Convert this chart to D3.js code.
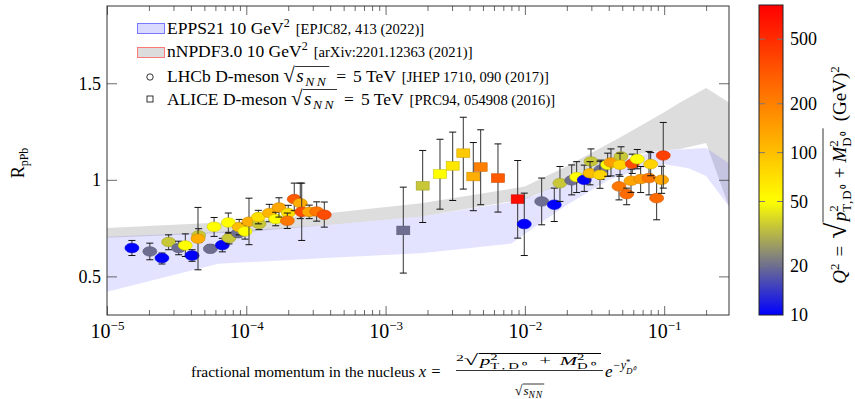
<!DOCTYPE html>
<html><head><meta charset="utf-8">
<script src="https://cdn.jsdelivr.net/npm/d3@7"></script>
<style>body{margin:0;background:#fff}svg{display:block}text{white-space:pre}</style>
</head><body><svg id="c" width="855" height="399"></svg>
<script>
// ---------- data ----------
const lhcbX = [1.51e-5,2.03e-5,2.48e-5,2.77e-5,3.27e-5,3.65e-5,4.08e-5,4.55e-5,4.50e-5,5.52e-5,5.87e-5,6.73e-5,7.51e-5,7.43e-5,8.76e-5,8.90e-5,9.79e-5,1.046e-4,1.234e-4,1.22e-4,1.463e-4,1.626e-4,1.717e-4,2.00e-4,1.97e-4,2.21e-4,2.44e-4,2.50e-4,2.83e-4,3.20e-4,3.63e-4,
  9.90e-3,1.32e-2,1.626e-2,1.786e-2,2.168e-2,2.354e-2,2.669e-2,2.982e-2,2.934e-2,3.518e-2,3.46e-2,3.93e-2,4.15e-2,4.90e-2,4.82e-2,4.74e-2,5.38e-2,5.78e-2,5.90e-2,6.41e-2,6.78e-2,7.78e-2,8.00e-2,8.83e-2,9.59e-2,9.85e-2];
const lhcbY = [0.647,0.629,0.595,0.678,0.647,0.660,0.608,0.712,0.695,0.643,0.757,0.662,0.698,0.779,0.724,0.755,0.733,0.783,0.772,0.807,0.828,0.797,0.857,0.828,0.788,0.900,0.879,0.834,0.834,0.836,0.819,
  0.771,0.888,0.871,0.983,0.997,1.014,1.000,1.095,1.034,1.052,1.026,1.078,1.090,1.121,1.078,0.966,0.926,0.995,1.083,1.107,1.004,1.009,1.081,0.905,1.000,1.126];
const lhcbErrUp = [0.039,0.043,0.026,0.037,0.035,0.060,0.030,0.035,0.162,0.020,0.048,0.035,0.030,0.049,0.020,0.040,0.040,0.122,0.030,0.035,0.045,0.035,0.050,0.040,0.040,0.083,0.104,0.149,0.035,0.050,0.066,
  0.160,0.121,0.086,0.086,0.080,0.080,0.076,0.065,0.060,0.050,0.070,0.060,0.070,0.050,0.060,0.060,0.031,0.060,0.050,0.050,0.065,0.138,0.060,0.104,0.070,0.171];
const lhcbErrDown = [0.039,0.043,0.031,0.040,0.035,0.057,0.030,0.035,0.161,0.020,0.050,0.035,0.030,0.055,0.020,0.040,0.040,0.119,0.030,0.035,0.045,0.035,0.050,0.040,0.040,0.060,0.080,0.148,0.035,0.050,0.064,
  0.163,0.121,0.087,0.095,0.075,0.080,0.060,0.070,0.060,0.050,0.070,0.060,0.070,0.050,0.060,0.070,0.055,0.060,0.050,0.050,0.070,0.087,0.060,0.112,0.070,0.169];
const lhcbQ2 = [10,20,10,35,20,50,10,35,120,20,50,10,35,50,20,100,50,120,35,70,110,50,130,70,220,300,120,350,130,220,350,
  10,20,10,35,20,50,10,35,100,20,80,50,140,35,80,220,250,130,350,50,150,220,80,250,130,400];

const aliceX = [1.34e-3,1.846e-3,2.458e-3,3.032e-3,3.613e-3,4.262e-3,4.816e-3,6.41e-3,8.88e-3];
const aliceY = [0.738,0.969,1.030,1.072,1.138,1.017,1.066,1.009,0.900];
const aliceErrUp = [0.224,0.183,0.180,0.175,0.186,0.176,0.193,0.177,0.200];
const aliceErrDown = [0.221,0.190,0.182,0.179,0.186,0.177,0.195,0.176,0.202];
const aliceQ2 = [20,35,50,65,90,120,200,300,700];

const eppsX    = [1e-5, 6.3e-5, 4e-4, 1.8e-3, 8e-3, 1.2e-2, 2e-2, 4e-2, 7e-2, 0.1, 0.15, 0.2, 0.292];
const eppsLow  = [0.42, 0.565, 0.596, 0.62, 0.67, 0.76, 0.87, 1.00, 1.06, 1.08, 1.06, 1.02, 0.862];
const eppsHigh = [0.705,0.73, 0.767, 0.81, 0.885,0.92, 1.00, 1.09, 1.13, 1.155,1.16, 1.165,1.086];

const nnpdfX    = [1e-5, 1e-4, 4e-4, 1.8e-3, 1e-2, 2e-2, 5e-2, 0.1, 0.13, 0.2, 0.292];
const nnpdfLow  = [0.70, 0.73, 0.767, 0.81, 0.90, 0.99, 1.12, 1.155, 1.16, 1.19, 0.86];
const nnpdfHigh = [0.75, 0.785,0.828, 0.879,0.965,1.07, 1.225,1.35, 1.40, 1.476,1.40];

const xTickExps = [-5,-4,-3,-2,-1];
const yTicks = [0.5, 1, 1.5];
const colorTicks = [10, 20, 50, 100, 200, 500];
const colorDomain = [10, 800];
const colorStops = [[10,[0,0,255]],[20,[110,110,145]],[50,[255,255,0]],[800,[255,0,0]]];

// ---------- setup ----------
const SERIF = "'Liberation Serif','Times New Roman',serif";
const svg = d3.select('#c');
const L=107, R=729, T=6, B=315;
const x = d3.scaleLog().domain([1e-5, 0.292]).range([L, R]);
const y = d3.scaleLinear().domain([0.3, 1.9]).range([B, T]);
const cscale = d3.scaleLog().domain(colorDomain).range([B, T]);

function qColor(q){
  const lq = Math.log10(q);
  for (let i=0;i<colorStops.length-1;i++){
    const a = colorStops[i], b = colorStops[i+1];
    const la = Math.log10(a[0]), lb = Math.log10(b[0]);
    if (lq <= lb || i===colorStops.length-2){
      const t = Math.max(0, Math.min(1, (lq-la)/(lb-la)));
      const c = a[1].map((v,k)=>Math.round(v + (b[1][k]-v)*t));
      return `rgb(${c[0]},${c[1]},${c[2]})`;
    }
  }
}

function rich(parent, items, opt){
  const g = parent.append('g');
  let cx = 0, pending = 0, ovs = null; const ov = [];
  items.forEach(it=>{
    if (it.ovStart !== undefined){ ovs = {x:cx, h:it.ovStart}; return; }
    if (it.ovEnd){ ov.push({x1:ovs.x, x2:cx, h:ovs.h}); return; }
    if (it.sp){ cx += it.sp; return; }
    const t = g.append('text').attr('x', cx).attr('y', it.dy||0)
      .attr('font-size', it.fs).attr('font-family', SERIF)
      .attr('font-style', it.i?'italic':'normal').attr('fill','#000').text(it.t);
    if (it.ls) t.attr('letter-spacing', it.ls);
    const w = t.node().getComputedTextLength();
    if (it.stack){ pending = w; } else { cx += Math.max(w, pending); pending = 0; }
  });
  ov.forEach(o=>g.append('line').attr('x1',o.x1+0.3).attr('x2',o.x2).attr('y1',-o.h).attr('y2',-o.h)
    .attr('stroke','#000').attr('stroke-width',0.8));
  const sx = opt.fitW ? opt.fitW/cx : 1;
  const shift = opt.anchor==='middle' ? -cx*sx/2 : 0;
  g.attr('transform', `translate(${opt.x},${opt.y})` + (opt.rot?` rotate(${opt.rot})`:'') + ` translate(${shift},0) scale(${sx},1)`);
  return cx*sx;
}

// ---------- bands ----------
svg.append('clipPath').attr('id','pc').append('rect').attr('x',L).attr('y',T).attr('width',R-L).attr('height',B-T);
const plot = svg.append('g').attr('clip-path','url(#pc)');
const area = (xs, lo, hi) => d3.area().x((d,i)=>x(xs[i])).y0((d,i)=>y(lo[i])).y1((d,i)=>y(hi[i]))(xs);
plot.append('path').attr('d', area(nnpdfX, nnpdfLow, nnpdfHigh)).attr('fill','rgb(128,128,128)').attr('fill-opacity',0.27);
plot.append('path').attr('d', area(eppsX, eppsLow, eppsHigh)).attr('fill','rgb(60,60,255)').attr('fill-opacity',0.14);

// ---------- axes ----------
const minor = [];
for (let e=-5;e<0;e++) for (let k=2;k<10;k++){ const v=k*Math.pow(10,e); if (v<=0.292) minor.push(v); }
const majors = xTickExps.map(e=>Math.pow(10,e));
const axG = svg.append('g');
function axisStyle(g){ g.select('.domain').remove(); g.selectAll('line').attr('stroke','#444').attr('stroke-width',0.8); }
axG.append('g').attr('transform',`translate(0,${B})`).call(d3.axisBottom(x).tickValues(minor).tickSize(-5).tickFormat('')).call(axisStyle);
axG.append('g').attr('transform',`translate(0,${T})`).call(d3.axisTop(x).tickValues(minor).tickSize(-5).tickFormat('')).call(axisStyle);
axG.append('g').attr('transform',`translate(0,${T})`).call(d3.axisTop(x).tickValues(majors).tickSize(-9).tickFormat('')).call(axisStyle);
const xb = axG.append('g').attr('transform',`translate(0,${B})`).call(d3.axisBottom(x).tickValues(majors).tickSize(-9).tickPadding(23).tickFormat(()=>'')).call(axisStyle);
xb.selectAll('.tick text').each(function(d){
  const t = d3.select(this).attr('font-family',SERIF).attr('font-size',20).attr('fill','#000').attr('dy',0).attr('y',338-B);
  t.text('');
  t.append('tspan').text('10');
  t.append('tspan').attr('font-size',13).attr('dy',-8).text('\u2212'+(-Math.round(Math.log10(d))));
});
const yl = axG.append('g').attr('transform',`translate(${L},0)`).call(d3.axisLeft(y).tickValues(yTicks).tickSize(-10).tickPadding(6).tickFormat(d3.format('')) ).call(axisStyle);
yl.selectAll('.tick text').attr('font-family',SERIF).attr('font-size',18).attr('fill','#000').attr('x',-6).attr('dy','0.33em');
axG.append('g').attr('transform',`translate(${R},0)`).call(d3.axisRight(y).tickValues(yTicks).tickSize(-10).tickFormat('')).call(axisStyle);
svg.append('rect').attr('x',L).attr('y',T).attr('width',R-L).attr('height',B-T).attr('fill','none').attr('stroke','#333').attr('stroke-width',1);

// ---------- points ----------
const pts = svg.append('g').attr('clip-path','url(#pc)');
function errbar(g, px, py, up, dn){
  const x0 = x(px), y1 = y(py+up), y2 = y(py-dn);
  g.append('line').attr('x1',x0).attr('x2',x0).attr('y1',y1).attr('y2',y2).attr('stroke','#333').attr('stroke-width',1);
  [y1,y2].forEach(yy=>g.append('line').attr('x1',x0-3.5).attr('x2',x0+3.5).attr('y1',yy).attr('y2',yy).attr('stroke','#111').attr('stroke-width',1));
}
aliceX.forEach((v,i)=>{
  errbar(pts, v, aliceY[i], aliceErrUp[i], aliceErrDown[i]);
  const c = qColor(aliceQ2[i]);
  pts.append('rect').attr('x',x(v)-6.5).attr('y',y(aliceY[i])-4.3).attr('width',13).attr('height',8.6)
    .attr('fill',c).attr('stroke',d3.color(c).darker(0.6)).attr('stroke-width',0.6);
});
lhcbX.forEach((v,i)=>{
  errbar(pts, v, lhcbY[i], lhcbErrUp[i], lhcbErrDown[i]);
  const c = qColor(lhcbQ2[i]);
  pts.append('ellipse').attr('cx',x(v)).attr('cy',y(lhcbY[i])).attr('rx',7).attr('ry',4.8)
    .attr('fill',c).attr('stroke',d3.color(c).darker(0.6)).attr('stroke-width',0.6);
});

// ---------- legend ----------
const lg = svg.append('g');
lg.append('rect').attr('x',137.5).attr('y',23.5).attr('width',27).attr('height',10).attr('fill','rgb(218,218,255)').attr('stroke','rgb(120,120,255)').attr('stroke-width',1);
lg.append('rect').attr('x',137.5).attr('y',47.5).attr('width',27).attr('height',10).attr('fill','rgb(220,220,220)').attr('stroke','rgb(255,120,120)').attr('stroke-width',1);
lg.append('circle').attr('cx',150).attr('cy',77).attr('r',3.2).attr('fill','#fff').attr('stroke','#000').attr('stroke-width',0.8);
lg.append('rect').attr('x',147).attr('y',96).attr('width',6).attr('height',6).attr('fill','#fff').attr('stroke','#000').attr('stroke-width',0.8);
const FS = 17.5, FC = 14.6;
rich(lg, [{t:'EPPS21 10 GeV',fs:FS},{t:'2',fs:12,dy:-7},{sp:6},{t:'[EPJC82, 413 (2022)]',fs:FC}], {x:167,y:33.5});
rich(lg, [{t:'nNPDF3.0 10 GeV',fs:FS},{t:'2',fs:12,dy:-7},{sp:6},{t:'[arXiv:2201.12363 (2021)]',fs:FC}], {x:167,y:57});
const sq = [{t:'\u221A',fs:21},{ovStart:15.5},{sp:1.5},{t:'s',fs:19,i:true},{sp:1.5},{t:'NN',fs:13.5,i:true,dy:3.5,ls:2.5},{sp:1},{ovEnd:true}];
rich(lg, [{t:'LHCb D-meson',fs:FS},{sp:4}].concat(sq,[{sp:7},{t:'=',fs:FS},{sp:7},{t:'5 TeV',fs:FS},{sp:6},{t:'[JHEP 1710, 090 (2017)]',fs:FC}]), {x:167,y:82});
rich(lg, [{t:'ALICE D-meson',fs:FS},{sp:4}].concat(sq,[{sp:7},{t:'=',fs:FS},{sp:7},{t:'5 TeV',fs:FS},{sp:6},{t:'[PRC94, 054908 (2016)]',fs:FC}]), {x:167,y:105});

// ---------- axis labels ----------
rich(svg, [{t:'R',fs:18},{t:'pPb',fs:12,dy:4}], {x:24,y:163,rot:-90,anchor:'middle'});
const xlab = svg.append('g');
rich(xlab, [{t:'fractional momentum in the nucleus',fs:15.5},{sp:4},{t:'x',fs:16.5,i:true},{sp:5},{t:'=',fs:16.5}], {x:191,y:377});
xlab.append('line').attr('x1',456).attr('x2',603).attr('y1',370.5).attr('y2',370.5).attr('stroke','#000').attr('stroke-width',0.8);
rich(xlab, [{t:'2',fs:9,dy:-4},{t:'\u221A',fs:15},{ovStart:11.5},{sp:1},{t:'p',fs:12,i:true},{t:'2',fs:8.5,dy:-5,stack:true},{t:'T,D\u2070',fs:8.5,dy:3.5,ls:1.8},
  {sp:5},{t:'+',fs:12},{sp:5},{t:'M',fs:12,i:true},{t:'2',fs:8.5,dy:-5,stack:true},{t:'D\u2070',fs:8.5,dy:3.5,ls:1.8},{sp:1},{ovEnd:true}], {x:456,y:365,fitW:145});
rich(xlab, [{t:'\u221A',fs:14},{ovStart:11},{sp:1},{t:'s',fs:13,i:true},{t:'NN',fs:9.5,i:true,dy:2.5,ls:1},{sp:1},{ovEnd:true}], {x:529.5,y:395,anchor:'middle'});
rich(xlab, [{t:'e',fs:17,i:true},{t:'\u2212y',fs:12,i:true,dy:-8},{t:'*',fs:9,dy:-12,stack:true},{t:'D\u2070',fs:9,i:true,dy:-3}], {x:605,y:377});

// ---------- colorbar ----------
const CL=759, CW=24;
const defs = svg.append('defs');
const grad = defs.append('linearGradient').attr('id','cg').attr('x1',0).attr('x2',0).attr('y1',1).attr('y2',0);
d3.range(0,1.0001,0.02).forEach(t=>{
  const q = Math.pow(10, Math.log10(colorDomain[0]) + t*(Math.log10(colorDomain[1])-Math.log10(colorDomain[0])));
  grad.append('stop').attr('offset',t).attr('stop-color',qColor(q));
});
svg.append('rect').attr('x',CL).attr('y',T-1).attr('width',CW).attr('height',B-T+1).attr('fill','url(#cg)');
const cb = svg.append('g').attr('transform',`translate(${CL+CW},0)`).call(d3.axisRight(cscale).tickValues(colorTicks).tickSize(0).tickPadding(7).tickFormat(d3.format('d')));
cb.select('.domain').remove();
cb.selectAll('.tick text').attr('font-family',SERIF).attr('font-size',18).attr('fill','#000');
colorTicks.filter(v=>v>10).forEach(v=>{
  const yy = cscale(v);
  svg.append('line').attr('x1',CL).attr('x2',CL+6).attr('y1',yy).attr('y2',yy).attr('stroke','#777').attr('stroke-width',1);
  svg.append('line').attr('x1',CL+CW-6).attr('x2',CL+CW).attr('y1',yy).attr('y2',yy).attr('stroke','#777').attr('stroke-width',1);
});
svg.append('rect').attr('x',CL).attr('y',T-1).attr('width',CW).attr('height',B-T+1).attr('fill','none').attr('stroke','#222').attr('stroke-width',1);

rich(svg, [{t:'Q',fs:19,i:true},{t:'2',fs:13,dy:-7.5},{sp:7},{t:'=',fs:19},{sp:7},{t:'\u221A',fs:29},{ovStart:23},{sp:1.5},
  {t:'p',fs:19,i:true},{t:'2',fs:13,dy:-8,stack:true},{t:'T,D\u2070',fs:13,dy:5,ls:1},{sp:5},{t:'+',fs:19},{sp:5},
  {t:'M',fs:19,i:true},{t:'2',fs:13,dy:-8,stack:true},{t:'D\u2070',fs:13,dy:5,ls:1},{sp:2},{ovEnd:true},
  {sp:7},{t:'(GeV)',fs:19},{t:'2',fs:13,dy:-7.5}], {x:846,y:175,rot:-90,anchor:'middle'});
</script></body></html>
